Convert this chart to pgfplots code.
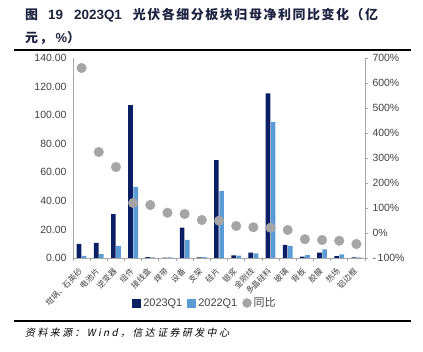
\documentclass[border=0pt]{standalone}
\usepackage{pgfplots}
\usepackage{pgfplotstable}
\pgfplotsset{compat=1.18}
\usepackage{fontspec}
\setmainfont{Liberation Sans}
\newfontfamily\cjk{Noto Sans CJK SC}
\newfontfamily\cjkt[LetterSpace=12]{Noto Sans CJK SC}
\newfontfamily\cjksrc[FakeSlant=0.2,LetterSpace=24]{Noto Sans CJK SC}
\definecolor{navy}{HTML}{0B1F65}
\definecolor{lblue}{HTML}{5B9BD5}
\definecolor{dotgray}{HTML}{A5A5A5}
\definecolor{axgray}{HTML}{A6A6A6}
\definecolor{tickc}{HTML}{404040}
\definecolor{titlec}{HTML}{1C2240}

\pgfplotstableread{
x a b c
0 9.8 1.5 660
1 10.5 2.8 324
2 30.7 8.4 264
3 107 49.7 120
4 0.6 0.5 112
5 0.2 0.5 81
6 21.2 12.6 76
7 0.5 0.6 52
8 68.5 46.8 49
9 1.9 1.7 28
10 3.7 3.3 23
11 115.2 95.3 21
12 9.1 8.4 12
13 0.9 2.1 -25
14 3.7 6.1 -28
15 1.4 2.6 -31
16 0.4 0.5 -44
}\data

\begin{document}
\begin{tikzpicture}
\path[use as bounding box] (0,0) rectangle (423bp,352bp);
% title
\node[anchor=west, inner sep=0, text=titlec] at (25bp,337bp) {\fontsize{13}{15}\selectfont\cjkt\bfseries 图\hspace{10bp}{\rmfamily\bfseries\fontsize{13.5}{15}\selectfont 19}\hspace{11bp}{\rmfamily\bfseries\fontsize{13.5}{15}\selectfont 2023Q1}\hspace{11bp}光伏各细分板块归母净利同比变化（亿};
\node[anchor=west, inner sep=0, text=titlec] at (25bp,314bp) {\fontsize{13}{15}\selectfont\cjkt\bfseries 元，\hspace{3bp}{\rmfamily\bfseries\%}）};
\draw[line width=1.1bp] (14bp,302bp) -- (411bp,302bp);
\draw[line width=1.1bp] (14bp,31bp) -- (411bp,31bp);
\node[anchor=west, inner sep=0, text=black] at (25bp,19bp) {\cjksrc\fontsize{10}{12}\selectfont 资料来源：Wind，信达证券研发中心};

\begin{axis}[
  at={(73bp,94bp)}, anchor=south west,
  scale only axis, width=292bp, height=200bp,
  xmin=-0.5, xmax=16.5, ymin=0, ymax=140,
  axis x line*=bottom, axis y line*=left,
  axis line style={axgray, line width=0.8bp, -},
  ytick={0,20,...,140},
  xtick={0,...,16},
  xticklabels={坩埚、石英砂,电池片,逆变器,组件,接线盒,焊带,设备,支架,硅片,银浆,金刚线,多晶硅料,玻璃,背板,胶膜,热场,铝边框},
  minor xtick={-0.5,0.5,...,16.5},
  major tick length=0pt,
  minor tick length=3bp,
  tick align=outside,
  minor tick style={axgray, line width=0.8bp},
  yticklabel style={font=\fontsize{10.5}{12}\selectfont, text=tickc, xshift=-3bp},
  xticklabel style={rotate=45, anchor=east, font=\cjk\fontsize{8}{9}\selectfont, text=tickc, inner sep=1bp, xshift=-8bp, yshift=-8bp},
  /pgf/number format/.cd, fixed, fixed zerofill, precision=2, assume math mode=true,
  /pgfplots/.cd,
  legend columns=3,
  legend style={draw=none, fill=none, at={(0.452,-0.225)}, anchor=center,
    font=\fontsize{11}{13}\selectfont, text=tickc,
    /tikz/every even column/.append style={column sep=3bp}},
]
\addplot[ybar, bar width=0.27, bar shift=-0.15, fill=navy, draw=none,
  legend image code/.code={\fill[navy] (0bp,-4.5bp) rectangle (9bp,4.5bp);}]
  table[x=x,y=a]{\data};
\addlegendentry{2023Q1}
\addplot[ybar, bar width=0.27, bar shift=0.15, fill=lblue, draw=none,
  legend image code/.code={\fill[lblue] (0bp,-4.5bp) rectangle (9bp,4.5bp);}]
  table[x=x,y=b]{\data};
\addlegendentry{2022Q1}
\addlegendimage{legend image code/.code={\fill[dotgray] (4.5bp,0bp) circle (4.5bp);}}
\addlegendentry{\cjk 同比}
\end{axis}

\begin{axis}[
  at={(73bp,94bp)}, anchor=south west,
  scale only axis, width=292bp, height=200bp,
  xmin=-0.5, xmax=16.5, ymin=-100, ymax=700,
  axis x line=none, axis y line*=right,
  axis line style={axgray, line width=0.8bp, -},
  ytick={-100,0,...,700},
  tick align=outside, major tick length=3bp,
  major tick style={axgray, line width=0.8bp},
  yticklabel={\ifdim\tick pt<0pt -\,\pgfmathparse{-\tick}\pgfmathprintnumber{\pgfmathresult}\else\pgfmathprintnumber{\tick}\fi\%},
  yticklabel style={font=\fontsize{10.5}{12}\selectfont, text=tickc, xshift=1bp},
  /pgf/number format/.cd, fixed, precision=0, assume math mode=true,
  /pgfplots/.cd,
]
\addplot[only marks, mark=*, mark size=4.8bp, color=dotgray] table[x=x,y=c]{\data};
\end{axis}
\end{tikzpicture}
\end{document}
